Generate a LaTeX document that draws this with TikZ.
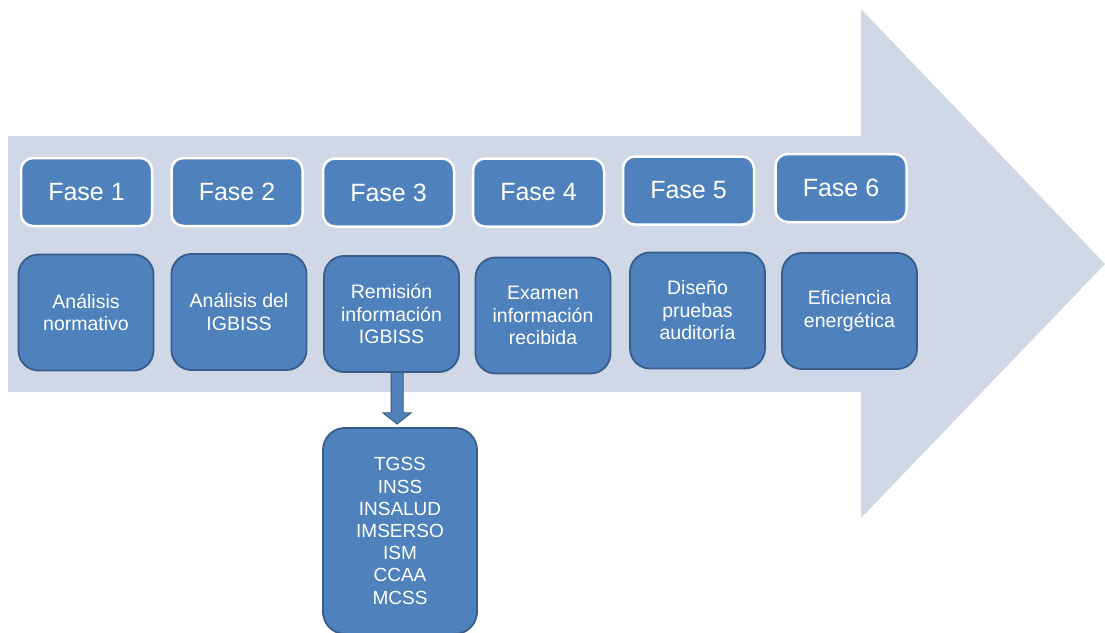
\documentclass[tikz,border=0pt]{standalone}
\usepackage{fontspec}
\setmainfont{Liberation Sans}
\usetikzlibrary{calc}
\definecolor{bgarrow}{HTML}{D0D8E8}
\definecolor{boxfill}{HTML}{4F81BD}
\definecolor{boxline}{HTML}{385D8A}
\tikzset{
  fasebox/.style={draw=white, line width=2.5pt, fill=boxfill, rounded corners=12pt,
    minimum width=131pt, minimum height=68pt, inner sep=0pt, text=white,
    font=\fontsize{25}{28}\selectfont},
  taskbox/.style={draw=boxline, line width=1.8pt, fill=boxfill, rounded corners=20pt,
    minimum width=135pt, minimum height=116pt, inner sep=2pt, text=white, align=center,
    font=\fontsize{19.5}{22.5}\selectfont},
  listbox/.style={draw=boxline, line width=1.8pt, fill=boxfill, rounded corners=22pt,
    minimum width=154pt, minimum height=206pt, inner sep=2pt, text=white, align=center,
    font=\fontsize{19}{22.2}\selectfont},
  blockarrow/.style={draw=boxline, line width=1pt, fill=boxfill, line join=miter}
}
\begin{document}
\begin{tikzpicture}[x=1pt,y=-1pt]
\useasboundingbox (0,0) rectangle (1105,632);
% big background arrow
\fill[bgarrow] (8,136) -- (861,136) -- (861,9) -- (1105,264) -- (861,518) -- (861,392) -- (8,392) -- cycle;
% phase boxes
\node[fasebox] (f1) at (86.5,192) {Fase 1};
\node[fasebox] (f2) at (237,192) {Fase 2};
\node[fasebox] (f3) at (388.5,192.5) {Fase 3};
\node[fasebox] (f4) at (538.5,192.5) {Fase 4};
\node[fasebox] (f5) at (688.5,190.5) {Fase 5};
\node[fasebox] (f6) at (841,188) {Fase 6};
% task boxes
\node[taskbox] (t1) at (86,312.5) {Análisis\\normativo};
\node[taskbox] (t2) at (239,312) {Análisis del\\IGBISS};
\node[taskbox] (t3) at (391.5,314) {Remisión\\información\\IGBISS};
\node[taskbox] (t4) at (543,315.5) {Examen\\información\\recibida};
\node[taskbox] (t5) at (697.5,310.5) {Diseño\\pruebas\\auditoría};
\node[taskbox] (t6) at (849.5,311) {Eficiencia\\energética};
% list box
\node[listbox, anchor=north] (lst) at (400,427) {TGSS\\INSS\\INSALUD\\IMSERSO\\ISM\\CCAA\\MCSS};
% block arrow from t3 to list box
\coordinate (as) at ($(t3.south)+(5.5,0)$);
\coordinate (ae) at ($(lst.north)+(-3,-3)$);
\draw[blockarrow] ($(as)+(-6,0)$) -- ($(as)+(-6,40)$) -- ($(as)+(-14,40)$)
  -- (ae) -- ($(as)+(14,40)$) -- ($(as)+(6,40)$) -- ($(as)+(6,0)$);
\end{tikzpicture}
\end{document}
